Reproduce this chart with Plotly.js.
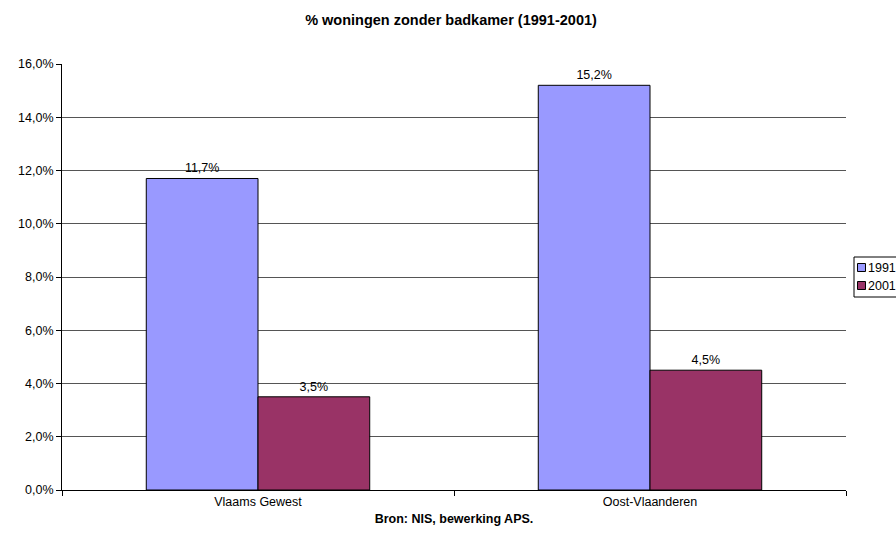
<!DOCTYPE html>
<html><head><meta charset="utf-8">
<script src="https://cdn.plot.ly/plotly-3.0.1.min.js"></script>
<style>body{margin:0;background:#fff}#chart{width:896px;height:537px}</style>
</head><body><div id="chart"></div>
<script>
const categories = ["Vlaams Gewest", "Oost-Vlaanderen"];
const seriesNames = ["1991", "2001"];
const values1991 = [11.7, 15.2];
const values2001 = [3.5, 4.5];
const colors = ["#9999FF", "#993366"];

const font = "Liberation Sans, Arial, sans-serif";
const FS = 12.5;
const L = 62, R = 846, T = 64, B = 490;
const px = x => (x - L) / (R - L);
const py = y => (B - y) / (B - T);

function bar(name, vals, color) {
  return {
    type: "bar", name: name, x: categories, y: vals,
    marker: {color: color, line: {color: "#000", width: 1}},
    text: vals.map(v => v.toFixed(1).replace(".", ",") + "%"),
    textposition: "outside", cliponaxis: false,
    textfont: {family: font, size: FS, color: "#000"},
    hoverinfo: "skip"
  };
}
const data = [bar(seriesNames[0], values1991, colors[0]), bar(seriesNames[1], values2001, colors[1])];

const shapes = [
  {type: "rect", xref: "paper", yref: "paper", x0: px(854), x1: px(910), y0: py(297), y1: py(257),
   line: {color: "#000", width: 1}, fillcolor: "#fff", layer: "above"}
];
const annotations = [];
seriesNames.forEach((n, i) => {
  const yc = 267.5 + i * 18;
  shapes.push({type: "rect", xref: "paper", yref: "paper", x0: px(857.5), x1: px(865.5),
    y0: py(yc + 4), y1: py(yc - 4), fillcolor: colors[i], line: {color: "#000", width: 1}, layer: "above"});
  annotations.push({xref: "paper", yref: "paper", x: px(866), y: py(yc), xanchor: "left", yanchor: "middle",
    text: n, showarrow: false, font: {family: font, size: FS, color: "#000"}});
});

const layout = {
  width: 896, height: 537,
  paper_bgcolor: "#fff", plot_bgcolor: "#fff",
  separators: ",.",
  margin: {l: L, r: 896 - R, t: T, b: 537 - B},
  title: {text: "<b>% woningen zonder badkamer (1991-2001)</b>", x: 451/896, xanchor: "center",
    y: 1 - 20/537, yref: "container", yanchor: "middle", font: {family: font, size: 14.5, color: "#000"}},
  bargap: 0.43, bargroupgap: 0,
  showlegend: false,
  xaxis: {
    type: "category", showline: true, linecolor: "#000", linewidth: 1, mirror: false,
    ticks: "outside", tickson: "boundaries", ticklen: 5, tickcolor: "#000",
    tickfont: {family: font, size: FS, color: "#000"}, showgrid: false,
    title: {text: "<b>Bron: NIS, bewerking APS.</b>", font: {family: font, size: FS, color: "#000"}, standoff: 6}
  },
  yaxis: {
    range: [0, 16], dtick: 2, tick0: 0, tickformat: ".1f", ticksuffix: "%",
    showline: true, linecolor: "#000", linewidth: 1, ticks: "outside", ticklen: 5, tickcolor: "#000",
    gridcolor: "#555", gridwidth: 1, zeroline: false,
    tickfont: {family: font, size: FS, color: "#000"}
  },
  shapes: shapes, annotations: annotations
};
Plotly.newPlot("chart", data, layout, {displayModeBar: false, staticPlot: true});
</script></body></html>
